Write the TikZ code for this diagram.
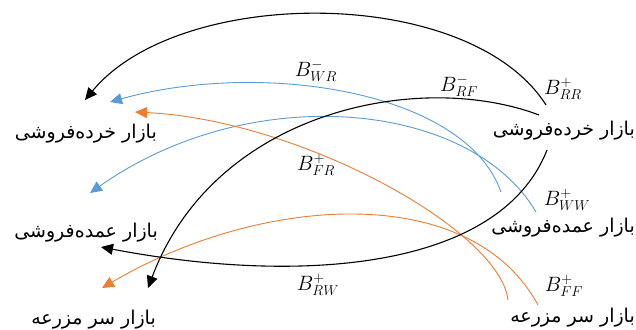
\documentclass[tikz,border=0pt]{standalone}
\usepackage{fontspec}
\usetikzlibrary{arrows.meta}
\TeXXeTstate=1
\newfontfamily\arabicfont[Script=Arabic]{DejaVu Sans}
\definecolor{cblue}{RGB}{91,155,213}
\definecolor{corange}{RGB}{237,125,49}
\tikzset{
  market/.style={font=\arabicfont\fontsize{19}{22}\selectfont, inner sep=0pt, anchor=east},
  mlabel/.style={font=\fontsize{21}{24}\selectfont, inner sep=0pt},
  flow/.style={line width=1.1pt, -{Triangle[length=12pt,width=11pt]}},
  bflow/.style={flow, color=cblue, line width=0.9pt},
  oflow/.style={flow, color=corange, line width=0.9pt},
}
\begin{document}
\begin{tikzpicture}[x=1pt,y=-1pt]
\useasboundingbox (0,0) rectangle (636,329);
% market labels
\node[market] (l1) at (157,134) {\beginR بازار خرده‌فروشی\endR};
\node[market] (l2) at (158,233) {\beginR بازار عمده‌فروشی\endR};
\node[market] (l3) at (156,320) {\beginR بازار سر مزرعه\endR};
\node[market] (r1) at (635,131) {\beginR بازار خرده‌فروشی\endR};
\node[market] (r2) at (635,228) {\beginR بازار عمده‌فروشی\endR};
\node[market] (r3) at (635,318) {\beginR بازار سر مزرعه\endR};
% math labels
\node[mlabel] (bwr) at (316,71) {$B^{-}_{WR}$};
\node[mlabel] (brf) at (459,86) {$B^{-}_{RF}$};
\node[mlabel] (brr) at (563,89) {$B^{+}_{RR}$};
\node[mlabel] (bfr) at (316,165) {$B^{+}_{FR}$};
\node[mlabel] (bww) at (567,200) {$B^{+}_{WW}$};
\node[mlabel] (brw) at (318,285) {$B^{+}_{RW}$};
\node[mlabel] (bff) at (564,286) {$B^{+}_{FF}$};
% curve end points
\coordinate (sRR) at (546,105);
\coordinate (eRR) at (85,100);
\coordinate (sWR) at (501,192);
\coordinate (eWR) at (110,102);
\coordinate (sWW) at (536,212);
\coordinate (eWW) at (90,193);
\coordinate (sFR) at (508,300);
\coordinate (eFR) at (135,112);
\coordinate (sFF) at (538,305);
\coordinate (eFF) at (102,288);
\coordinate (sRF) at (539,115);
\coordinate (eRF) at (148,288);
\coordinate (sRW) at (547,150);
\coordinate (eRW) at (101,247);
% flows
\draw[flow] (sRR) .. controls (470,-15) and (180,-15) .. (eRR);
\draw[bflow] (sWR) .. controls (465,90) and (260,60) .. (eWR);
\draw[bflow] (sWW) .. controls (470,100) and (250,80) .. (eWW);
\draw[oflow] (sFR) .. controls (500,230) and (300,120) .. (eFR);
\draw[oflow] (sFF) .. controls (470,180) and (260,195) .. (eFF);
\draw[flow] (sRF) .. controls (420,70) and (215,110) .. (eRF);
\draw[flow] (sRW) .. controls (500,270) and (300,285) .. (eRW);
\end{tikzpicture}
\end{document}
